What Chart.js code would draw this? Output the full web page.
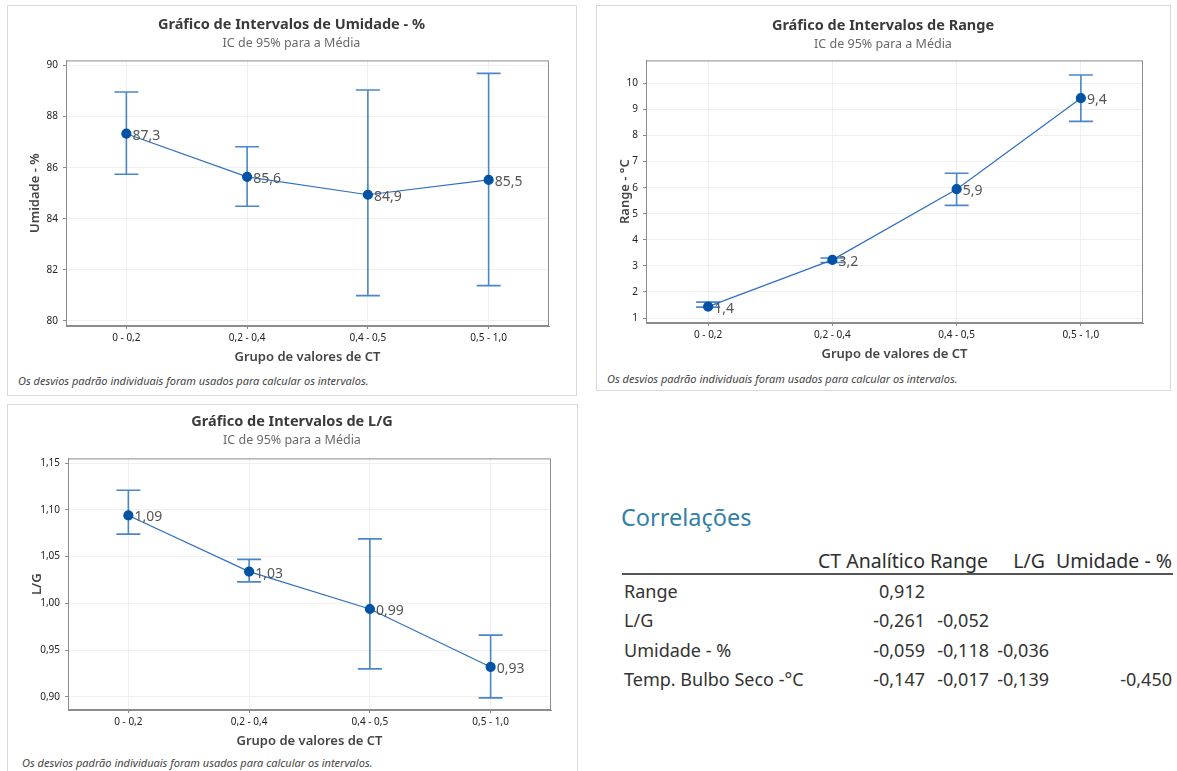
<!DOCTYPE html>
<html lang="pt-BR">
<head>
<meta charset="utf-8">
<title>Gráficos de Intervalos</title>
<script src="https://cdn.jsdelivr.net/npm/chart.js@4.4.1/dist/chart.umd.min.js"></script>
<style>
  body { margin: 0; background: #fff; width: 1177px; height: 771px; overflow: hidden; position: relative;
         font-family: "Noto Sans", "Open Sans", sans-serif; }
  .frame { position: absolute; border: 1px solid #d9d9d9; box-sizing: border-box; }
  canvas { position: absolute; }
  .note { position: absolute; font-style: italic; font-size: 11px; color: #444; white-space: nowrap; line-height: 14px; }
  #corrTitle { position: absolute; left: 621px; top: 501px; font-size: 23.5px; color: #337fa8; }
  .cell { position: absolute; font-size: 18px; color: #333; white-space: nowrap; line-height: 22px; }
  .head { font-size: 19.5px; color: #2e2e2e; }
  #corrLine { position: absolute; left: 622px; top: 573px; width: 551px; height: 2px; background: #555; }
</style>
</head>
<body>

<div class="frame" style="left:7px;top:5px;width:570px;height:391px"></div>
<div class="frame" style="left:596px;top:5px;width:575px;height:386px"></div>
<div class="frame" style="left:7px;top:404px;width:571px;height:380px"></div>

<canvas id="umidadeChart" width="569" height="364" style="left:7px;top:5px"></canvas>
<canvas id="rangeChart" width="574" height="361" style="left:596px;top:5px"></canvas>
<canvas id="lgChart" width="570" height="349" style="left:7px;top:404px"></canvas>

<div class="note" style="left:18px;top:374px">Os desvios padrão individuais foram usados para calcular os intervalos.</div>
<div class="note" style="left:607px;top:372px">Os desvios padrão individuais foram usados para calcular os intervalos.</div>
<div class="note" style="left:22px;top:756px">Os desvios padrão individuais foram usados para calcular os intervalos.</div>

<div id="corrTitle">Correlações</div>
<div id="corrLine"></div>
<div id="corrTable"></div>

<script>
const grupos = ['0 - 0,2', '0,2 - 0,4', '0,4 - 0,5', '0,5 - 1,0'];

// Umidade - %
const umidadeMedia = [87.33, 85.64, 84.94, 85.52];
const umidadeInf = [85.74, 84.49, 80.99, 81.38];
const umidadeSup = [88.96, 86.82, 89.04, 89.69];
const umidadeTicks = [80, 82, 84, 86, 88, 90];

// Range - °C
const rangeMedia = [1.44, 3.23, 5.94, 9.43];
const rangeInf = [1.42, 3.13, 5.32, 8.54];
const rangeSup = [1.61, 3.30, 6.55, 10.32];
const rangeTicks = [1, 2, 3, 4, 5, 6, 7, 8, 9, 10];

// L/G
const lgMedia = [1.094, 1.034, 0.994, 0.932];
const lgInf = [1.074, 1.023, 0.930, 0.899];
const lgSup = [1.121, 1.047, 1.069, 0.966];
const lgTicks = [0.90, 0.95, 1.00, 1.05, 1.10, 1.15];

// tabela de correlações
const corrColunas = ['CT Analítico', 'Range', 'L/G', 'Umidade - %'];
const corrLinhas = ['Range', 'L/G', 'Umidade - %', 'Temp. Bulbo Seco -°C'];
const corrValores = [
  [0.912],
  [-0.261, -0.052],
  [-0.059, -0.118, -0.036],
  [-0.147, -0.017, -0.139, -0.450]
];

Chart.defaults.font.family = '"Noto Sans", "Open Sans", sans-serif';
Chart.defaults.animation = false;

const virgula = (v, casas) => v.toFixed(casas).replace('.', ',');

// error bars, value labels and the box round the plot area
function intervalos(inf, sup, casas) {
  return {
    id: 'intervalos',
    beforeDatasetsDraw(chart) {
      const { ctx, scales: { x, y } } = chart;
      ctx.save();
      ctx.strokeStyle = '#4a86c8';
      ctx.lineWidth = 1.6;
      inf.forEach((lo, i) => {
        const px = x.getPixelForValue(i);
        const yLo = y.getPixelForValue(lo);
        const yHi = y.getPixelForValue(sup[i]);
        ctx.beginPath();
        ctx.moveTo(px, yLo); ctx.lineTo(px, yHi);
        ctx.moveTo(px - 12, yLo); ctx.lineTo(px + 12, yLo);
        ctx.moveTo(px - 12, yHi); ctx.lineTo(px + 12, yHi);
        ctx.stroke();
      });
      ctx.restore();
    },
    afterDatasetsDraw(chart) {
      const { ctx } = chart;
      const valores = chart.data.datasets[0].data;
      ctx.save();
      ctx.font = '14px "Noto Sans", sans-serif';
      ctx.fillStyle = '#555';
      ctx.textBaseline = 'middle';
      chart.getDatasetMeta(0).data.forEach((pt, i) => {
        ctx.fillText(virgula(valores[i], casas), pt.x + 6, pt.y + 2);
      });
      ctx.restore();
    },
    afterDraw(chart) {
      const { ctx, chartArea: a } = chart;
      ctx.save();
      ctx.strokeStyle = '#8c8c8c';
      ctx.lineWidth = 1;
      ctx.strokeRect(a.left + 0.5, a.top + 0.5, a.width - 1, a.height - 1);
      ctx.restore();
    }
  };
}

function graficoIntervalo(id, o) {
  new Chart(document.getElementById(id), {
    type: 'line',
    data: {
      labels: grupos,
      datasets: [{
        data: o.media,
        borderColor: '#2f6fc0',
        borderWidth: 1.2,
        pointRadius: 4.5,
        pointBackgroundColor: '#0052a5',
        pointBorderColor: '#0052a5',
        tension: 0
      }]
    },
    options: {
      responsive: false,
      layout: { padding: 0 },
      plugins: {
        legend: { display: false },
        tooltip: { enabled: false },
        title: {
          display: true, text: o.titulo, color: '#3a3a3a',
          font: { size: 14.5, weight: 'bold' },
          padding: { top: o.topo, bottom: 3 }
        },
        subtitle: {
          display: true, text: 'IC de 95% para a Média', color: '#6a6a6a',
          font: { size: 12.5 },
          padding: { top: 0, bottom: o.sub }
        }
      },
      scales: {
        x: {
          offset: true,
          grid: { color: '#f0f0f0', tickColor: '#8c8c8c', tickLength: 3, offset: false },
          border: { color: '#8c8c8c' },
          ticks: { color: '#222', font: { size: 10 }, padding: 3 },
          title: { display: true, text: 'Grupo de valores de CT', color: '#444',
                   font: { size: 13, weight: '600' }, padding: { top: 4, bottom: 4 } },
          afterFit(axis) { axis.height = 43; }
        },
        y: {
          min: o.min, max: o.max,
          afterBuildTicks(axis) { axis.ticks = o.ticks.map(v => ({ value: v })); },
          grid: { color: '#f0f0f0', tickColor: '#8c8c8c', tickLength: 3 },
          border: { color: '#8c8c8c' },
          ticks: { color: '#222', font: { size: 10 }, padding: 5,
                   callback: v => virgula(v, o.casasEixo) },
          title: { display: true, text: o.eixoY, color: '#444',
                   font: { size: 13, weight: '600' }, padding: { top: o.tituloY, bottom: 0 } },
          afterFit(axis) { axis.width = o.largura; }
        },
        margem: {
          type: 'linear', position: 'right',
          grid: { display: false }, border: { display: false }, ticks: { display: false },
          afterFit(axis) { axis.width = o.direita; }
        }
      }
    },
    plugins: [intervalos(o.inf, o.sup, o.casas)]
  });
}

graficoIntervalo('umidadeChart', {
  titulo: 'Gráfico de Intervalos de Umidade - %', eixoY: 'Umidade - %',
  media: umidadeMedia, inf: umidadeInf, sup: umidadeSup, ticks: umidadeTicks,
  min: 79.8, max: 90.2, casas: 1, casasEixo: 0,
  topo: 11, sub: 9, largura: 59, direita: 27, tituloY: 20
});

graficoIntervalo('rangeChart', {
  titulo: 'Gráfico de Intervalos de Range', eixoY: 'Range - °C',
  media: rangeMedia, inf: rangeInf, sup: rangeSup, ticks: rangeTicks,
  min: 0.81, max: 10.88, casas: 1, casasEixo: 0,
  topo: 12, sub: 8, largura: 50, direita: 27, tituloY: 21
});

graficoIntervalo('lgChart', {
  titulo: 'Gráfico de Intervalos de L/G', eixoY: 'L/G',
  media: lgMedia, inf: lgInf, sup: lgSup, ticks: lgTicks,
  min: 0.886, max: 1.155, casas: 2, casasEixo: 2,
  topo: 9, sub: 10, largura: 61, direita: 26, tituloY: 22
});

// correlation table, values right aligned under their columns
const tabela = document.getElementById('corrTable');
const colDireita = [925, 989, 1049, 1172];
const cabecalhoDireita = [925, 988, 1045, 1172];
const linhaTopo = [580, 609, 639, 668];

function celula(texto, css, extra) {
  const d = document.createElement('div');
  d.className = 'cell' + (extra ? ' ' + extra : '');
  d.textContent = texto;
  Object.assign(d.style, css);
  tabela.appendChild(d);
}

corrColunas.forEach((c, j) => {
  celula(c, { right: (1177 - cabecalhoDireita[j]) + 'px', top: '550px' }, 'head');
});
corrLinhas.forEach((nome, i) => {
  celula(nome, { left: '624px', top: linhaTopo[i] + 'px' });
  corrValores[i].forEach((v, j) => {
    celula(virgula(v, 3), { right: (1177 - colDireita[j]) + 'px', top: linhaTopo[i] + 'px' });
  });
});
</script>
</body>
</html>
